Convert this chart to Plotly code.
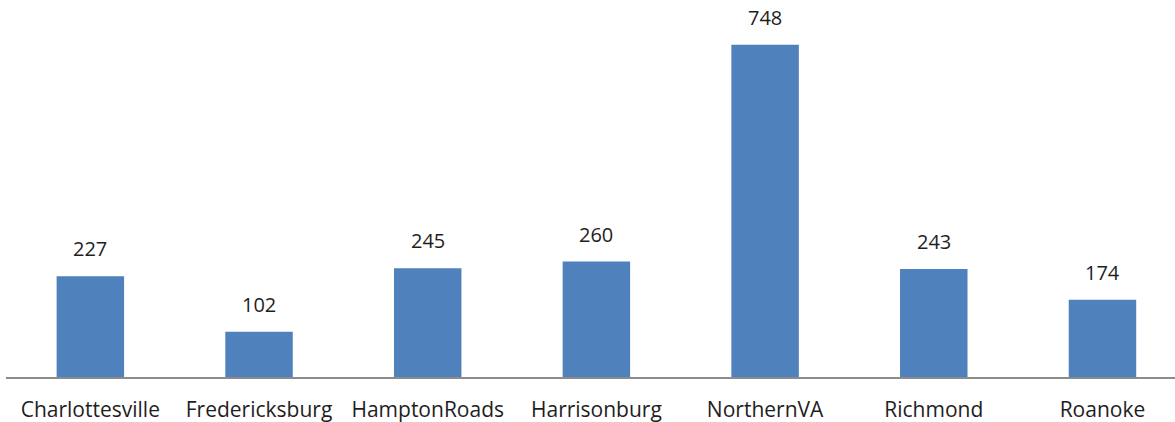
import plotly.graph_objects as go

categories = ["Charlottesville", "Fredericksburg", "HamptonRoads", "Harrisonburg",
              "NorthernVA", "Richmond", "Roanoke"]
values = [227, 102, 245, 260, 748, 243, 174]

fig = go.Figure()
fig.add_trace(go.Bar(
    x=categories, y=values, width=0.40,
    marker=dict(color="#4F81BD", line=dict(width=0)),
    hoverinfo="x+y",
))
for c, v in zip(categories, values):
    fig.add_annotation(x=c, y=v, text=str(v), showarrow=False, yanchor="bottom",
                       yshift=12, font=dict(family="Open Sans", size=20, color="#1e1e1e"))
fig.update_layout(
    width=1175, height=422,
    margin=dict(l=6, r=0, t=0, b=45),
    paper_bgcolor="white", plot_bgcolor="white",
    showlegend=False,
    font=dict(family="Open Sans", size=21, color="#1e1e1e"),
)
fig.update_xaxes(range=[-0.5, 6.43], showline=True, linecolor="#8c8c8c", linewidth=2,
                 ticks="outside", ticklen=13, tickcolor="rgba(0,0,0,0)",
                 tickfont=dict(family="Open Sans", size=21, color="#1e1e1e"),
                 showgrid=False, zeroline=False)
fig.update_yaxes(range=[0, 849], visible=False, showgrid=False, zeroline=False)
fig.write_html("out.html", config={"displayModeBar": False},
               post_script="document.body.style.margin='0';document.body.style.overflow='hidden';")
